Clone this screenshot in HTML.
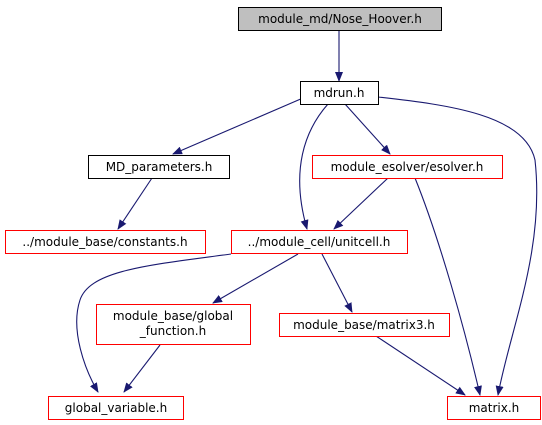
<!DOCTYPE html>
<html><head><style>body{margin:0;background:#fff}svg{display:block}text{font-family:"DejaVu Sans",sans-serif;font-size:12px;text-anchor:middle}</style></head><body>
<svg width="542" height="425" viewBox="0 0 542 425" xmlns="http://www.w3.org/2000/svg">
<defs><marker id="a" markerWidth="10" markerHeight="8" refX="9" refY="4" orient="auto" markerUnits="userSpaceOnUse"><path d="M0,0L10,4L0,8z" fill="#191970"/></marker></defs>
<g fill="none" stroke="#191970" stroke-width="1.1" marker-end="url(#a)">
<path d="M339,30L339,81"/>
<path d="M303,98L173,154"/>
<path d="M328,104C305,130 290,170 307,229"/>
<path d="M345,104L390,154"/>
<path d="M378,97C450,105 525,115 535,160 C545,250 510,330 498,395"/>
<path d="M152,178L118,229"/>
<path d="M388,178L334,229"/>
<path d="M415,178C440,240 465,330 480,395"/>
<path d="M231,254C150,265 90,270 80,300 C70,330 85,370 98,392"/>
<path d="M298,254L213,303"/>
<path d="M322,254L352,312"/>
<path d="M160,345L124,392"/>
<path d="M376,336L465,395"/>
</g>
<g stroke-width="1">
<rect x="238.5" y="7.5" width="203" height="23" fill="#bfbfbf" stroke="#000"/>
<rect x="300.5" y="81.5" width="78" height="23" fill="#fff" stroke="#000"/>
<rect x="88.5" y="155.5" width="141" height="23" fill="#fff" stroke="#000"/>
<g fill="#fff" stroke="#f00">
<rect x="312.5" y="155.5" width="190" height="23"/>
<rect x="5.5" y="230.5" width="200" height="23"/>
<rect x="231.5" y="230.5" width="176" height="23"/>
<rect x="96.5" y="304.5" width="154" height="40"/>
<rect x="279.5" y="313.5" width="170" height="23"/>
<rect x="48.5" y="396.5" width="135" height="23"/>
<rect x="447.5" y="396.5" width="93" height="23"/>
</g></g>
<g fill="#000">
<text x="340" y="23">module_md/Nose_Hoover.h</text>
<text x="339" y="97">mdrun.h</text>
<text x="159" y="171">MD_parameters.h</text>
<text x="407" y="171">module_esolver/esolver.h</text>
<text x="105" y="246">../module_base/constants.h</text>
<text x="319" y="246">../module_cell/unitcell.h</text>
<text x="173" y="320">module_base/global</text>
<text x="173" y="335">_function.h</text>
<text x="364" y="329">module_base/matrix3.h</text>
<text x="116" y="412">global_variable.h</text>
<text x="494" y="412">matrix.h</text>
</g>
</svg>
</body></html>
